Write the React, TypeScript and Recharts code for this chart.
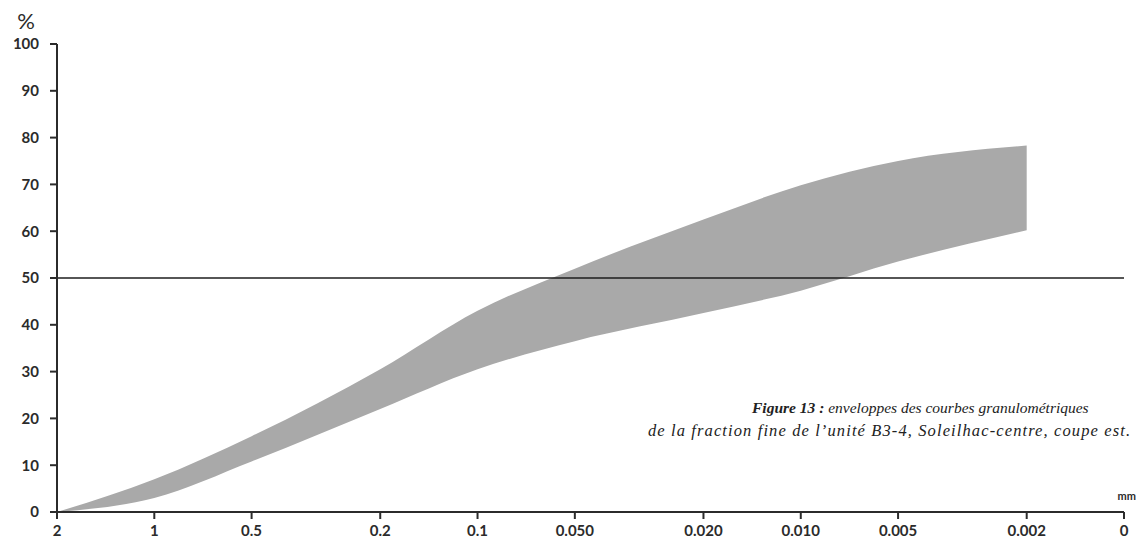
import { ComposedChart, Area, XAxis, YAxis, ReferenceLine } from "recharts";

// grain size (mm) on a log axis; "0" sits one octave below 0.002
const diameters = [2, 1, 0.5, 0.2, 0.1, 0.05, 0.02, 0.01, 0.005, 0.002];
const lowerEnvelope = [0, 3, 10.8, 22, 30.5, 36.5, 42.5, 47.3, 53.5, 60.2];
const upperEnvelope = [0, 7, 16.2, 30.5, 43, 52, 62.5, 69.8, 75, 78.3];

const xTicks = [2, 1, 0.5, 0.2, 0.1, 0.05, 0.02, 0.01, 0.005, 0.002, 0.001];
const xTickLabels = ["2", "1", "0.5", "0.2", "0.1", "0.050", "0.020", "0.010", "0.005", "0.002", "0"];
const yTicks = [0, 10, 20, 30, 40, 50, 60, 70, 80, 90, 100];

const W = 1136;
const H = 546;
const AXIS_COLOR = "#2b2b2b";
const TICK_FONT = { fill: "#2b2b2b", fontSize: 15, fontFamily: "Lato", fontWeight: 700 };

const data = diameters.map((d, i) => ({
  d,
  band: [lowerEnvelope[i], upperEnvelope[i]],
}));

function labelFor(v: number): string {
  const i = xTicks.findIndex((t) => Math.abs(t - v) < 1e-9);
  return i >= 0 ? xTickLabels[i] : String(v);
}

export default function App() {
  return (
    <div style={{ position: "absolute", left: 0, top: 0, width: W, height: H, background: "#fff" }}>
      <ComposedChart width={W} height={H} data={data} margin={{ top: 44, right: 12, left: 0, bottom: 0 }}>
        <XAxis
          dataKey="d"
          type="number"
          scale="log"
          domain={[0.001, 2]}
          reversed
          allowDataOverflow
          ticks={xTicks}
          tickFormatter={labelFor}
          height={34}
          tick={TICK_FONT}
          tickSize={7}
          tickMargin={6}
          stroke={AXIS_COLOR}
          axisLine={{ stroke: AXIS_COLOR, strokeWidth: 2 }}
          tickLine={{ stroke: AXIS_COLOR, strokeWidth: 2 }}
        />
        <YAxis
          type="number"
          domain={[0, 100]}
          ticks={yTicks}
          interval={0}
          width={57}
          tick={TICK_FONT}
          tickSize={7}
          tickMargin={11}
          axisLine={{ stroke: AXIS_COLOR, strokeWidth: 2 }}
          tickLine={{ stroke: AXIS_COLOR, strokeWidth: 2 }}
        />
        <Area
          type="monotone"
          dataKey="band"
          stroke="none"
          fill="#a9a9a9"
          fillOpacity={1}
          isAnimationActive={false}
          dot={false}
          activeDot={false}
        />
        <ReferenceLine y={50} stroke="#1e1e1e" strokeWidth={1.5} />
      </ComposedChart>

      <svg width={W} height={H} style={{ position: "absolute", left: 0, top: 0, pointerEvents: "none" }}>
        <text x={26} y={29} textAnchor="middle" fontFamily="Lato" fontSize={22} fill="#2b2b2b">
          %
        </text>
        <text x={1136} y={500} textAnchor="end" fontFamily="Lato" fontWeight={700} fontSize={11} fill="#2b2b2b">
          mm
        </text>
        <text x={752} y={413} fontFamily="Liberation Serif" fontStyle="italic" fontSize={15.5} fill="#222">
          <tspan fontWeight={700}>Figure 13 :</tspan> enveloppes des courbes granulométriques
        </text>
        <text
          x={648}
          y={436}
          fontFamily="Liberation Serif"
          fontStyle="italic"
          fontSize={16.5}
          fill="#222"
          textLength={482}
          lengthAdjust="spacing"
        >
          de la fraction fine de l’unité B3-4, Soleilhac-centre, coupe est.
        </text>
      </svg>
    </div>
  );
}
